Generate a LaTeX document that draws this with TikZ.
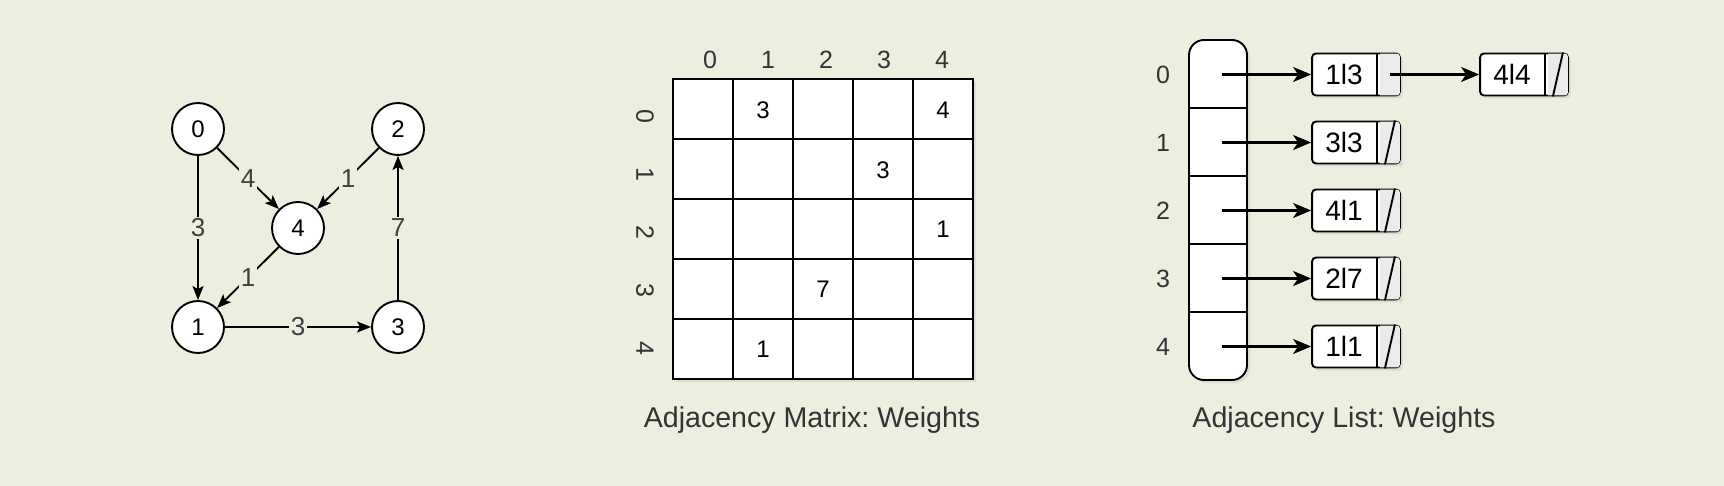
\documentclass[tikz,border=0pt]{standalone}
\usepackage{fontspec}
\setmainfont{Liberation Sans}
\usetikzlibrary{arrows.meta,shapes,shadows,calc}

\definecolor{canvas}{RGB}{237,237,224}
\definecolor{ink}{RGB}{51,51,51}

\newcommand{\lentry}[1]{\makebox[24pt]{\rule[-1.5pt]{0pt}{13pt}#1}\nodepart{two}\makebox[3pt]{}}

\begin{document}
\frenchspacing
\begin{tikzpicture}[x=0.5pt,y=-0.5pt,>={Stealth[length=7pt,width=5.5pt,inset=1.5pt]},line width=0.95pt]

	\tikzstyle{vertex}   = [circle, draw=black, fill=white, minimum size=26pt, inner sep=0pt, font=\fontsize{12}{14}\selectfont]
	\tikzstyle{weight}   = [fill=canvas, inner sep=1pt, text=black!75, font=\fontsize{13}{15}\selectfont]
	\tikzstyle{edgearrow} = [->]
	\tikzstyle{idx}      = [text=ink, font=\fontsize{12.5}{15}\selectfont]
	\tikzstyle{caption}  = [text=ink, font=\fontsize{14.3}{17}\selectfont]
	\tikzstyle{shadowed} = [drop shadow={opacity=0.15, shadow xshift=1.5pt, shadow yshift=-1.5pt}]
	\tikzstyle{entry}    = [font=\fontsize{12}{14}\selectfont]
	\tikzstyle{listnode} = [rectangle split, rectangle split horizontal, rectangle split parts=2, draw=black, fill=white, rounded corners=2pt, inner xsep=4pt, inner ysep=4pt, shadowed, font=\fontsize{14}{16}\selectfont]
	\tikzstyle{pointer}  = [fill=black!8]
	\tikzstyle{link}     = [->, line width=1.1pt, >={Stealth[length=9pt,width=7.5pt,inset=2.5pt]}]

	\fill [canvas] (0,0) rectangle (1724,486);

	% weighted graph
	\node [vertex] (v0) at (198,129) {0};
	\node [vertex] (v2) at (398,129) {2};
	\node [vertex] (v4) at (298,228) {4};
	\node [vertex] (v1) at (198,327) {1};
	\node [vertex] (v3) at (398,327) {3};

	\draw [edgearrow] (v0) -- node [weight] {3} (v1);
	\draw [edgearrow] (v0) -- node [weight] {4} (v4);
	\draw [edgearrow] (v2) -- node [weight] {1} (v4);
	\draw [edgearrow] (v4) -- node [weight] {1} (v1);
	\draw [edgearrow] (v1) -- node [weight] {3} (v3);
	\draw [edgearrow] (v3) -- node [weight] {7} (v2);

	% adjacency matrix
	\draw [fill=white, shadowed] (673,79) rectangle (973,379);
	\foreach \i in {1,...,4}
		\draw (673+60*\i,79) -- (673+60*\i,379) (673,79+60*\i) -- (973,79+60*\i);
	\foreach \i in {0,...,4} {
		\node [idx] (col\i) at (710+58*\i,60) {\i};
		\node [idx, rotate=-90] (row\i) at (645,116+58*\i) {\i};
	}
	\foreach \r/\c/\w in {0/1/3,0/4/4,1/3/3,2/4/1,3/2/7,4/1/1}
		\node [entry] (w\r\c) at (703+60*\c,110.5+59.6*\r) {\w};
	\node [caption] (mcap) at (812,420) {Adjacency Matrix: Weights};

	% adjacency list
	\draw [fill=white, shadowed, rounded corners=7.5pt] (1189,40) rectangle (1247,380);
	\foreach \i in {1,...,4}
		\draw (1189,40+68*\i) -- (1247,40+68*\i);
	\foreach \i in {0,...,4} {
		\node [idx] (lab\i) at (1163,74.5+68*\i) {\i};
		\coordinate (head\i) at (1222,74.5+68*\i);
	}

	\node [listnode] (e0) at (1356,74.5)  {\lentry{1l3}};
	\node [listnode] (e1) at (1356,142.5) {\lentry{3l3}};
	\node [listnode] (e2) at (1356,210.5) {\lentry{4l1}};
	\node [listnode] (e3) at (1356,278.5) {\lentry{2l7}};
	\node [listnode] (e4) at (1356,346.5) {\lentry{1l1}};
	\node [listnode] (e5) at (1524,74.5)  {\lentry{4l4}};

	\foreach \n in {e0,e1,e2,e3,e4,e5}
		\fill [pointer] ($(\n.north east)+(-21,1)$) [rounded corners=1.5pt] -- ($(\n.north east)+(-1,1)$) -- ($(\n.south east)+(-1,-1)$) [sharp corners] -- ($(\n.south east)+(-21,-1)$) -- cycle;
	\foreach \n in {e1,e2,e3,e4,e5}
		\draw ($(\n.south east)+(-16,0)$) -- ($(\n.north east)+(-6,0)$);

	\foreach \i in {0,...,4}
		\draw [link] (head\i) -- (e\i.west);
	\draw [link] ($(e0.east)+(-11,0)$) -- (e5.west);

	\node [caption] (lcap) at (1344,420) {Adjacency List: Weights};

\end{tikzpicture}
\end{document}
